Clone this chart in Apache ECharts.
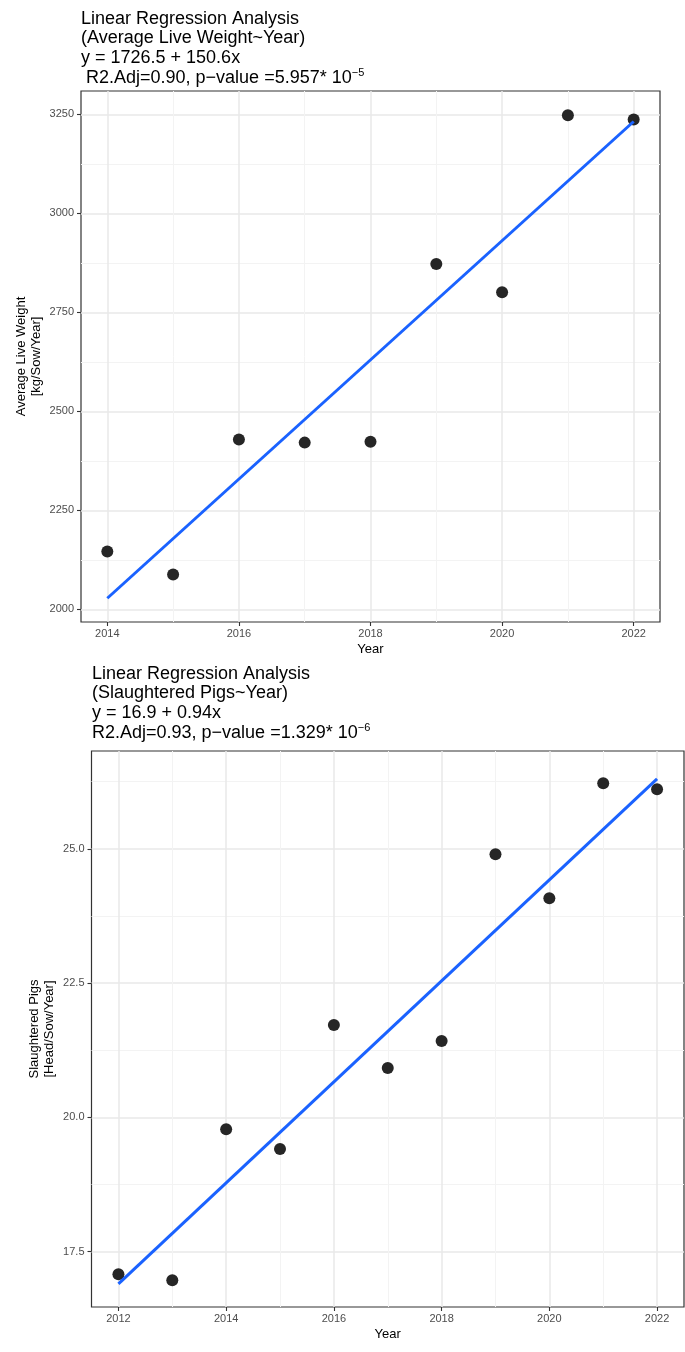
<!DOCTYPE html>
<html>
<head>
<meta charset="utf-8">
<script src="https://cdn.jsdelivr.net/npm/echarts@6/dist/echarts.min.js"></script>
<style>
  body { margin: 0; background: #fff; }
  #chart { width: 685px; height: 1352px; }
</style>
</head>
<body>
<div id="chart"></div>
<script>
// top panel: average live weight
const years1 = [2014, 2015, 2016, 2017, 2018, 2019, 2020, 2021, 2022];
const liveWeight = [2146, 2088, 2429, 2421, 2423, 2872, 2801, 3248, 3237];
const fitYears1 = [2014, 2022];
const fitWeight = [2028, 3232];
const xTicks1 = [2014, 2016, 2018, 2020, 2022];
const xMinor1 = [2015, 2017, 2019, 2021];
const yTicks1 = [2000, 2250, 2500, 2750, 3000, 3250];
const yMinor1 = [2125, 2375, 2625, 2875, 3125];

// bottom panel: slaughtered pigs
const years2 = [2012, 2013, 2014, 2015, 2016, 2017, 2018, 2019, 2020, 2021, 2022];
const slaughtered = [17.08, 16.97, 19.78, 19.41, 21.72, 20.92, 21.42, 24.90, 24.08, 26.22, 26.11];
const fitYears2 = [2012, 2022];
const fitPigs = [16.9, 26.3];
const xTicks2 = [2012, 2014, 2016, 2018, 2020, 2022];
const xMinor2 = [2013, 2015, 2017, 2019, 2021];
const yTicks2 = [17.5, 20.0, 22.5, 25.0];
const yMinor2 = [18.75, 21.25, 23.75, 26.25];

const FONT = 'Liberation Sans, Arial, sans-serif';
const MAJOR = '#e9e9e9';
const MINOR = '#f3f3f3';
const FIT = '#1a62ff';

const chart = echarts.init(document.getElementById('chart'));

// one visible axis with major grid, one bare axis for the minor grid
function axisPair(dim, gridIndex, min, max, ticks, minor, fmt, name, nameGap) {
    const major = {
        type: 'value', gridIndex: gridIndex, min: min, max: max,
        position: dim === 'x' ? 'bottom' : 'left',
        axisLine: { show: false },
        axisTick: { show: true, length: 4, customValues: ticks, lineStyle: { color: '#333', width: 1.1 } },
        axisLabel: { customValues: ticks, formatter: fmt, color: '#4d4d4d', fontSize: 11,
                     fontFamily: FONT, margin: dim === 'x' ? 6 : 7 },
        splitLine: { show: true, lineStyle: { color: MAJOR, width: 1.5 } },
        name: name, nameLocation: 'middle', nameGap: nameGap, nameMoveOverlap: false,
        nameTextStyle: { color: '#000', fontSize: 13, fontFamily: FONT, lineHeight: 15 }
    };
    if (dim === 'y') major.nameRotate = 90;
    const bare = {
        type: 'value', gridIndex: gridIndex, min: min, max: max,
        position: dim === 'x' ? 'bottom' : 'left',
        axisLine: { show: false },
        axisTick: { show: false, customValues: minor },
        axisLabel: { show: false, customValues: minor },
        splitLine: { show: true, lineStyle: { color: MINOR, width: 1 } }
    };
    return [bare, major];
}

const plain = v => String(v);
const oneDec = v => v.toFixed(1);

const xAxes = [].concat(
    axisPair('x', 0, 2013.6, 2022.4, xTicks1, xMinor1, plain, 'Year', 20),
    axisPair('x', 1, 2011.5, 2022.5, xTicks2, xMinor2, plain, 'Year', 20)
);
const yAxes = [].concat(
    axisPair('y', 0, 1968, 3309, yTicks1, yMinor1, plain, 'Average Live Weight\n[kg/Sow/Year]', 37),
    axisPair('y', 1, 16.47, 26.82, yTicks2, yMinor2, oneDec, 'Slaughtered Pigs\n[Head/Sow/Year]', 35)
);

const titleStyle = {
    fontSize: 18, fontWeight: 'normal', color: '#000', fontFamily: FONT, lineHeight: 19.6,
    rich: {
        sup: { fontSize: 11, fontFamily: FONT, color: '#000', verticalAlign: 'top', lineHeight: 6 }
    }
};

const option = {
    animation: false,
    backgroundColor: '#fff',
    title: [
        {
            text: 'Linear Regression Analysis\n(Average Live Weight~Year)\ny = 1726.5 + 150.6x\n R2.Adj=0.90, p\u2212value =5.957* 10{sup|\u22125}',
            left: 81, top: 9, padding: 0, textStyle: titleStyle
        },
        {
            text: 'Linear Regression Analysis\n(Slaughtered Pigs~Year)\ny = 16.9 + 0.94x\nR2.Adj=0.93, p\u2212value =1.329* 10{sup|\u22126}',
            left: 92, top: 664, padding: 0, textStyle: titleStyle
        }
    ],
    grid: [
        { left: 81, top: 91, right: 25, height: 531, show: true, borderColor: '#333', borderWidth: 1.2 },
        { left: 91.5, top: 751, right: 1, height: 556, show: true, borderColor: '#333', borderWidth: 1.2 }
    ],
    xAxis: xAxes,
    yAxis: yAxes,
    series: [
        {
            type: 'scatter', xAxisIndex: 1, yAxisIndex: 1,
            data: years1.map((y, i) => [y, liveWeight[i]]),
            symbolSize: 12, itemStyle: { color: '#262626', opacity: 1 }, z: 3
        },
        {
            type: 'line', xAxisIndex: 1, yAxisIndex: 1,
            data: fitYears1.map((y, i) => [y, fitWeight[i]]),
            showSymbol: false, lineStyle: { color: FIT, width: 3 }, z: 4
        },
        {
            type: 'scatter', xAxisIndex: 3, yAxisIndex: 3,
            data: years2.map((y, i) => [y, slaughtered[i]]),
            symbolSize: 12, itemStyle: { color: '#262626', opacity: 1 }, z: 3
        },
        {
            type: 'line', xAxisIndex: 3, yAxisIndex: 3,
            data: fitYears2.map((y, i) => [y, fitPigs[i]]),
            showSymbol: false, lineStyle: { color: FIT, width: 3 }, z: 4
        }
    ]
};

chart.setOption(option);
</script>
</body>
</html>
